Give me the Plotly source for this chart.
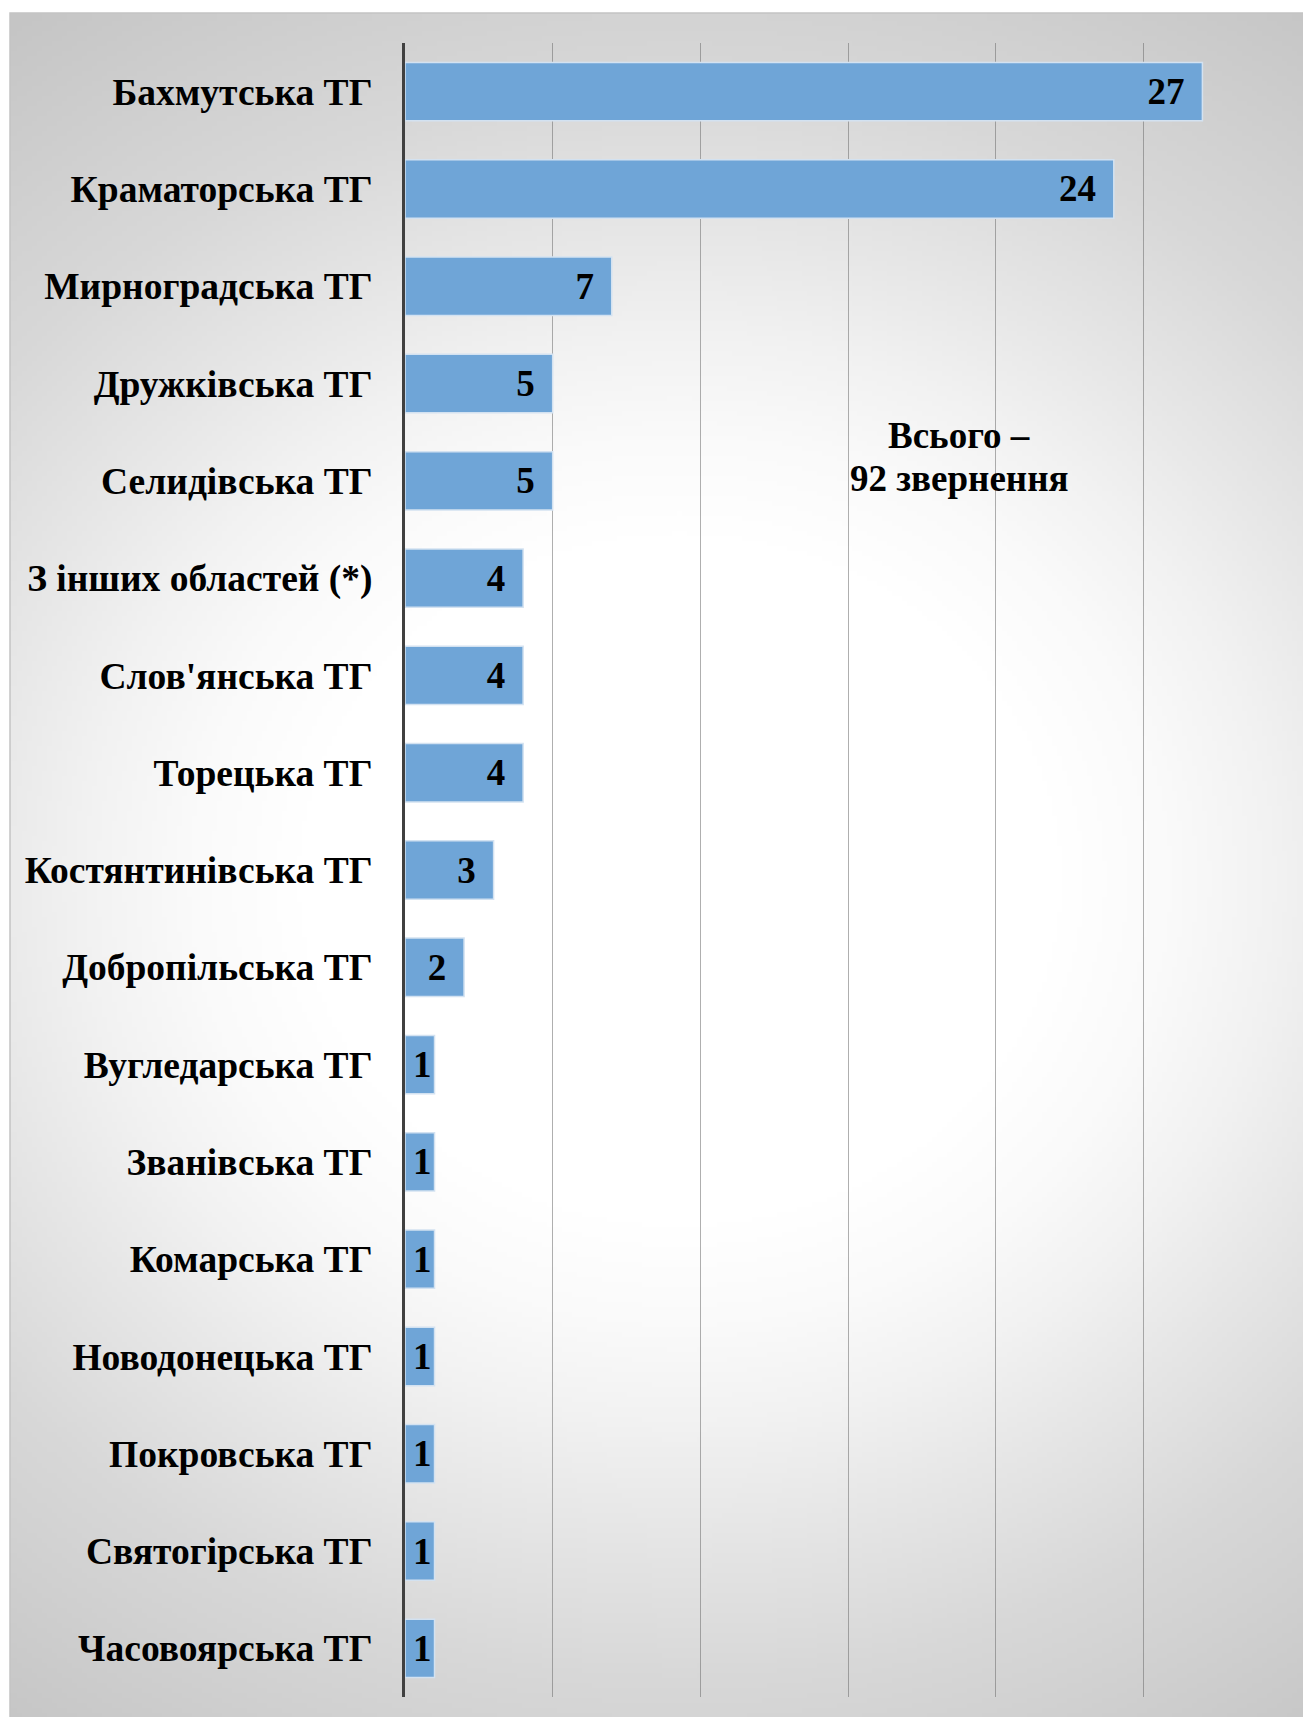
import base64
import struct
import zlib

import numpy as np
import plotly.graph_objects as go

# ---- data ----
categories = [
    "Бахмутська ТГ",
    "Краматорська ТГ",
    "Мирноградська ТГ",
    "Дружківська ТГ",
    "Селидівська ТГ",
    "З інших областей (*)",
    "Слов'янська ТГ",
    "Торецька ТГ",
    "Костянтинівська ТГ",
    "Добропільська ТГ",
    "Вугледарська ТГ",
    "Званівська ТГ",
    "Комарська ТГ",
    "Новодонецька ТГ",
    "Покровська ТГ",
    "Святогірська ТГ",
    "Часовоярська ТГ",
]
values = [27, 24, 7, 5, 5, 4, 4, 4, 3, 2, 1, 1, 1, 1, 1, 1, 1]
total_lines = ["Всього –", "92 звернення"]

# ---- geometry (page pixels, figure is offset by the page body margin) ----
W, H = 1311, 1717
OFF = 8  # default body margin of the html page
PL, PR, PT, PB = 405 - OFF, 1291 - OFF, 43 - OFF, 1697 - OFF  # plot area edges
CHART_X0, CHART_Y0 = 10 - OFF, 13 - OFF                        # chart frame top-left


def px_to_paper_x(px):
    return (px - PL) / (PR - PL)


def px_to_paper_y(py):
    return (PB - py) / (PB - PT)


# ---- radial background gradient as PNG ----
def make_gradient_png():
    gw, gh = 262, 342
    xs = np.linspace(CHART_X0, W, gw)
    ys = np.linspace(CHART_Y0, H, gh)
    X, Y = np.meshgrid(xs, ys)
    cx, cy = 680.0 - OFF, 880.0 - OFF
    r = np.sqrt(((X - cx) / 1.1) ** 2 + (Y - cy) ** 2)
    rr = [0, 350, 450, 545, 650, 800, 885, 1060, 1400]
    dd = [0, 0, 5, 13, 24, 39, 45, 58, 72]
    g = 255 - np.interp(r, rr, dd)
    g = np.clip(g, 0, 255).astype(np.uint8)
    raw = b"".join(b"\x00" + row.tobytes() for row in g)

    def chunk(tag, data):
        c = struct.pack(">I", len(data)) + tag + data
        return c + struct.pack(">I", zlib.crc32(tag + data) & 0xFFFFFFFF)

    png = b"\x89PNG\r\n\x1a\n"
    png += chunk(b"IHDR", struct.pack(">IIBBBBB", gw, gh, 8, 0, 0, 0, 0))
    png += chunk(b"IDAT", zlib.compress(raw, 9))
    png += chunk(b"IEND", b"")
    return "data:image/png;base64," + base64.b64encode(png).decode()


PAD = "\u2009\u2009"
bar_text = [f"{v}{PAD}" if v > 1 else f"{v}" for v in values]

font_val = dict(family="Liberation Serif", size=37, color="black", weight="bold")
font_cat = dict(family="Liberation Serif", size=37.5, color="black", weight="bold")
font_note = dict(family="Liberation Serif", size=37, color="black", weight="bold")

fig = go.Figure()
fig.add_trace(
    go.Bar(
        x=values,
        y=categories,
        orientation="h",
        marker=dict(color="#6FA5D7", line=dict(color="#D3E2F1", width=1.5)),
        text=bar_text,
        textposition="inside",
        insidetextanchor="end",
        constraintext="none",
        textangle=0,
        textfont=font_val,
        cliponaxis=False,
        hoverinfo="x+y",
    )
)

note_y = [435 - OFF, 479 - OFF]
annotations = [
    dict(
        text=t,
        xref="paper",
        yref="paper",
        x=px_to_paper_x(959 - OFF),
        y=px_to_paper_y(yy),
        xanchor="center",
        yanchor="middle",
        showarrow=False,
        font=font_note,
    )
    for t, yy in zip(total_lines, note_y)
]

fig.update_layout(
    width=W,
    height=H,
    autosize=False,
    margin=dict(l=PL, r=W - PR, t=PT, b=H - PB, pad=0, autoexpand=False),
    paper_bgcolor="white",
    plot_bgcolor="rgba(0,0,0,0)",
    bargap=0.4,
    showlegend=False,
    xaxis=dict(
        range=[0, 30],
        dtick=5,
        showgrid=True,
        gridcolor="rgba(110,110,110,0.55)",
        gridwidth=1.3,
        showticklabels=False,
        zeroline=False,
        showline=False,
        ticks="",
        automargin=False,
        fixedrange=True,
    ),
    yaxis=dict(
        categoryorder="array",
        categoryarray=categories,
        autorange="reversed",
        showline=True,
        linecolor="#404040",
        linewidth=3,
        showgrid=False,
        zeroline=False,
        ticks="",
        ticklabelstandoff=22,
        tickfont=font_cat,
        automargin=False,
        fixedrange=True,
    ),
    images=[
        dict(
            source=make_gradient_png(),
            xref="paper",
            yref="paper",
            x=px_to_paper_x(CHART_X0),
            y=px_to_paper_y(CHART_Y0),
            sizex=(W - CHART_X0) / (PR - PL),
            sizey=(H - CHART_Y0) / (PB - PT),
            xanchor="left",
            yanchor="top",
            sizing="stretch",
            layer="below",
        )
    ],
    shapes=[
        dict(
            type="rect",
            xref="paper",
            yref="paper",
            x0=px_to_paper_x(CHART_X0),
            y0=px_to_paper_y(H + 20),
            x1=px_to_paper_x(W + 20),
            y1=px_to_paper_y(CHART_Y0),
            line=dict(color="#C4C4C4", width=1.5),
            fillcolor="rgba(0,0,0,0)",
            layer="below",
        )
    ],
    annotations=annotations,
)

fig.write_html("out.html")
